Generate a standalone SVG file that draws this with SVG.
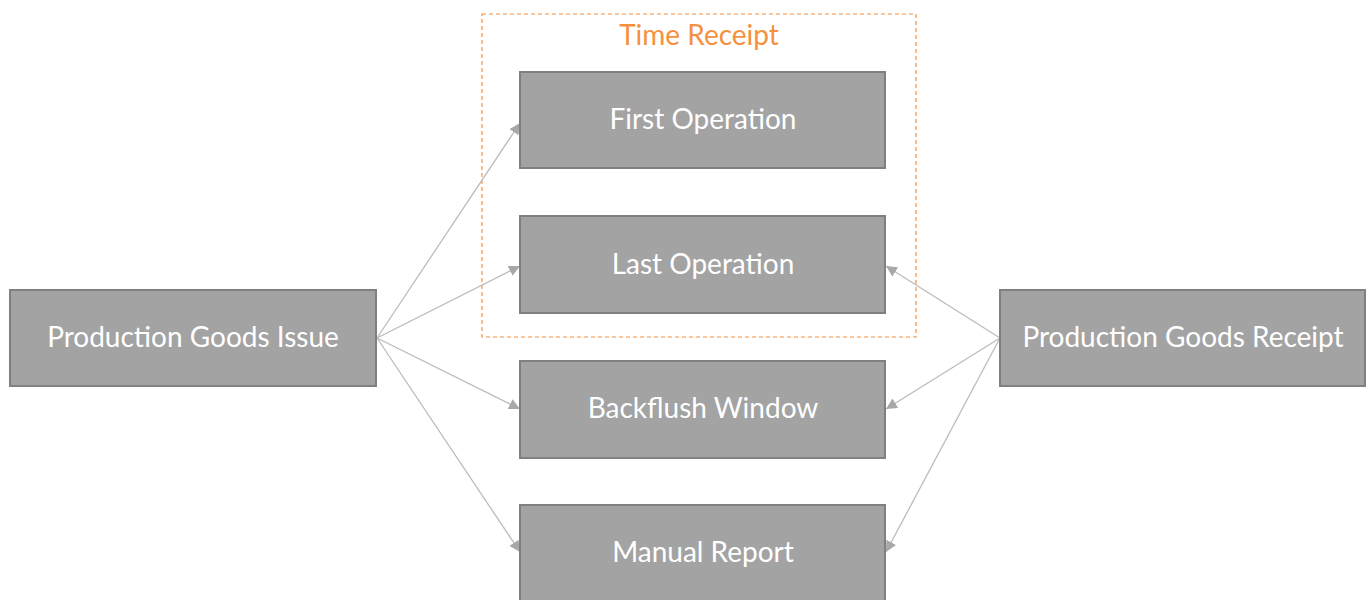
<svg xmlns="http://www.w3.org/2000/svg" width="1369" height="600" viewBox="0 0 1369 600">
<defs>
<style>
.box{fill:#a3a3a3;stroke:#808080;stroke-width:2}
.lbl{font-family:Lato,"Open Sans",sans-serif;font-size:28px;fill:#ffffff;text-anchor:middle}
.edge{stroke:#bcbcbc;stroke-width:1.3;fill:none;marker-end:url(#ah)}
.grp{fill:none;stroke:#f5913e;stroke-width:1.2;stroke-dasharray:4 3}
.title{font-family:Lato,"Open Sans",sans-serif;font-size:28px;fill:#f5913e;text-anchor:middle}
</style>
<marker id="ah" viewBox="0 0 10 10" refX="10" refY="5" markerWidth="11" markerHeight="11" markerUnits="userSpaceOnUse" orient="auto">
<path d="M0,0 L10,5 L0,10 z" fill="#a8a8a8"/>
</marker>
</defs>
<g id="time-receipt">
<rect class="grp" x="482" y="14" width="434" height="323"/>
<text class="title" x="699" y="45">Time Receipt</text>
</g>
<g id="connectors">
<line class="edge" x1="377" y1="338" x2="520" y2="123"/>
<line class="edge" x1="377" y1="338" x2="520" y2="266"/>
<line class="edge" x1="377" y1="338" x2="520" y2="409"/>
<line class="edge" x1="377" y1="338" x2="520" y2="552"/>
<line class="edge" x1="1000" y1="338" x2="886" y2="266"/>
<line class="edge" x1="1000" y1="338" x2="886" y2="409"/>
<line class="edge" x1="1000" y1="338" x2="886" y2="552"/>
</g>
<g id="goods-issue">
<rect class="box" x="10" y="290" width="366" height="96"/>
<text class="lbl" x="193" y="347">Production Goods Issue</text>
</g>
<g id="first-op">
<rect class="box" x="520" y="72" width="365" height="96"/>
<text class="lbl" x="703" y="129">First Operation</text>
</g>
<g id="last-op">
<rect class="box" x="520" y="216" width="365" height="97"/>
<text class="lbl" x="703" y="274">Last Operation</text>
</g>
<g id="backflush">
<rect class="box" x="520" y="361" width="365" height="97"/>
<text class="lbl" x="703" y="418">Backflush Window</text>
</g>
<g id="manual">
<rect class="box" x="520" y="505" width="365" height="100"/>
<text class="lbl" x="703" y="562">Manual Report</text>
</g>
<g id="goods-receipt">
<rect class="box" x="1000" y="290" width="365" height="96"/>
<text class="lbl" x="1183" y="347">Production Goods Receipt</text>
</g>
</svg>
